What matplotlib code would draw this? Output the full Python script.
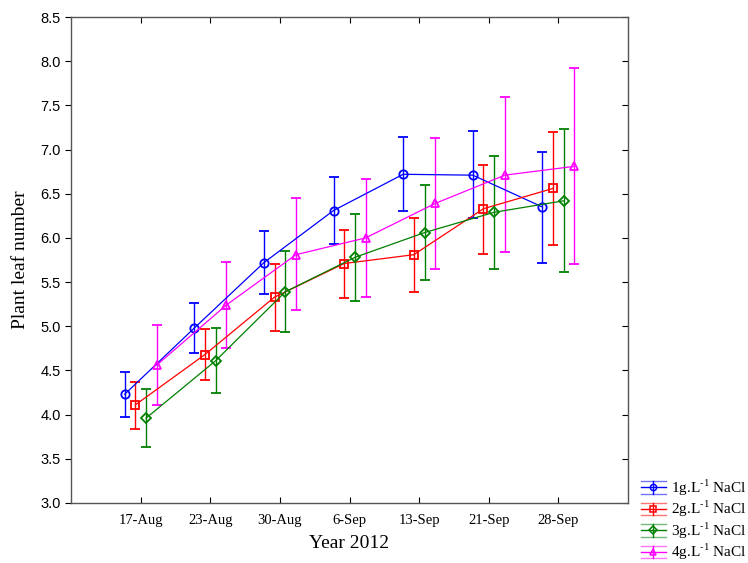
import matplotlib.pyplot as plt
import numpy as np
from matplotlib.lines import Line2D
from matplotlib.legend_handler import HandlerBase

plt.rcParams["mathtext.fontset"] = "custom"
plt.rcParams["mathtext.rm"] = "Liberation Serif"

# Data
dates = ["17-Aug", "23-Aug", "30-Aug", "6-Sep", "13-Sep", "21-Sep", "28-Sep"]
labels = [r"1g.L$^{\mathrm{-1}}$ NaCl", r"2g.L$^{\mathrm{-1}}$ NaCl",
          r"3g.L$^{\mathrm{-1}}$ NaCl", r"4g.L$^{\mathrm{-1}}$ NaCl"]
labels = [s.replace("-1", "\u20111") for s in labels]  # keep a short hyphen

mean_1g = [4.23, 4.98, 5.72, 6.31, 6.72, 6.71, 6.35]
low_1g = [3.97, 4.70, 5.36, 5.93, 6.30, 6.22, 5.72]
high_1g = [4.48, 5.26, 6.08, 6.69, 7.14, 7.21, 6.97]

mean_2g = [4.11, 4.68, 5.33, 5.71, 5.81, 6.33, 6.56]
low_2g = [3.84, 4.39, 4.95, 5.32, 5.39, 5.82, 5.92]
high_2g = [4.37, 4.97, 5.70, 6.09, 6.23, 6.83, 7.20]

mean_3g = [3.96, 4.61, 5.39, 5.78, 6.06, 6.29, 6.42]
low_3g = [3.63, 4.25, 4.93, 5.29, 5.52, 5.65, 5.61]
high_3g = [4.29, 4.98, 5.85, 6.27, 6.60, 6.93, 7.23]

mean_4g = [4.56, 5.24, 5.81, 6.00, 6.39, 6.71, 6.81]
low_4g = [4.11, 4.75, 5.18, 5.33, 5.65, 5.84, 5.71]
high_4g = [5.01, 5.73, 6.45, 6.67, 7.13, 7.60, 7.92]

means = [mean_1g, mean_2g, mean_3g, mean_4g]
lows = [low_1g, low_2g, low_3g, low_4g]
highs = [high_1g, high_2g, high_3g, high_4g]

colors = ["#0000ff", "#ff0000", "#008000", "#ff00ff"]
markers = ["o", "s", "D", "^"]
msizes = [6, 6, 5, 6]
offsets = [-0.23, -0.077, 0.077, 0.23]


class ErrorLegendHandler(HandlerBase):
    # Statistica-style key: three horizontal lines, vertical bar and small marker
    def create_artists(self, legend, orig_handle, xdescent, ydescent,
                       width, height, fontsize, trans):
        color, marker = orig_handle
        cy = height / 2 - ydescent
        d = 4.5
        arts = []
        for yy, a in [(cy + d, 0.55), (cy, 1.0), (cy - d, 0.55)]:
            arts.append(Line2D([-xdescent, width - xdescent], [yy, yy], color=color,
                               lw=1.0, alpha=a, transform=trans))
        mid = width / 2 - xdescent
        arts.append(Line2D([mid, mid], [cy - d, cy + d], color=color, lw=1.0,
                           transform=trans))
        arts.append(Line2D([mid], [cy], marker=marker, markersize=4.5,
                           markerfacecolor="none", markeredgecolor=color,
                           markeredgewidth=1.1, transform=trans))
        return arts


fig = plt.figure(figsize=(7.48, 5.63), dpi=100)
ax = fig.add_axes([0.095, 0.1066, 0.7446, 0.8632])

x = np.arange(1, len(dates) + 1)
for i in range(4):
    m = np.array(means[i])
    err = [m - np.array(lows[i]), np.array(highs[i]) - m]
    ax.errorbar(x + offsets[i], m, yerr=err, color=colors[i], marker=markers[i],
                markersize=msizes[i], markerfacecolor="none", markeredgewidth=1.3,
                linewidth=0.9, elinewidth=1.0, capsize=3.5, capthick=1.0)

ax.set_xlim(0, 8)
ax.set_ylim(3.0, 8.5)
ax.set_xticks(x)
ax.set_xticklabels(dates, family="Liberation Serif", fontsize=10.5)
yt = np.arange(3.0, 8.51, 0.5)
ax.set_yticks(yt)
ax.set_yticklabels([f"{v:.1f}" for v in yt], family="Liberation Sans", fontsize=10.5)
ax.tick_params(axis="y", direction="out", length=4, right=True)
ax.tick_params(axis="x", direction="in", length=4, top=True, pad=8)
for t in ax.yaxis.get_ticklines()[1::2]:
    t.set_marker(0)  # right side ticks point inward
for s in ax.spines.values():
    s.set_color("#555555")
    s.set_linewidth(1.0)

ax.set_xlabel("Year 2012", family="Liberation Serif", fontsize=14, labelpad=6)
ax.set_ylabel("Plant leaf number", family="Liberation Serif", fontsize=14, labelpad=8)

keys = [(colors[i], markers[i]) for i in range(4)]
fig.legend(handles=keys, labels=labels, handler_map={tuple: ErrorLegendHandler()},
           loc="lower left", bbox_to_anchor=(0.853, -0.004), frameon=False,
           prop={"family": "Liberation Serif", "size": 11},
           handlelength=1.6, handletextpad=0.35, labelspacing=0.08,
           borderaxespad=0.0, borderpad=0.2)

plt.savefig("out.png", dpi=100)
